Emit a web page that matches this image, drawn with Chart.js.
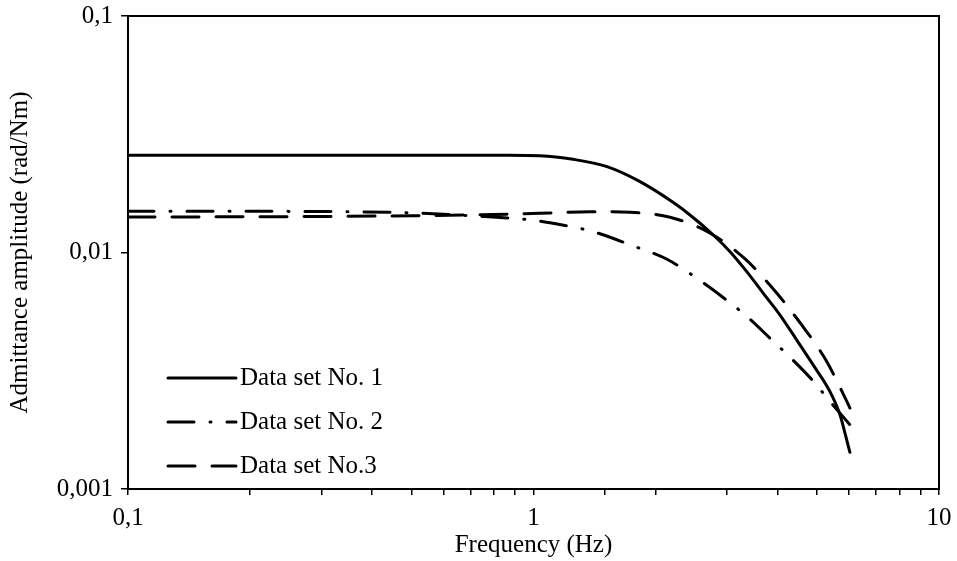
<!DOCTYPE html>
<html>
<head>
<meta charset="utf-8">
<script src="https://cdn.jsdelivr.net/npm/chart.js@4.4.1/dist/chart.umd.min.js"></script>
<style>
  html, body { margin: 0; padding: 0; background: #fff; }
  #wrap { width: 957px; height: 561px; position: relative; }
</style>
</head>
<body>
<div id="wrap"><canvas id="chart"></canvas></div>
<script>
// Datos (frecuencia en Hz, amplitud en rad/Nm)
const freq1 = [0.1, 0.2, 0.4, 0.6, 0.85, 1.037, 1.252, 1.518, 1.831, 2.208, 2.432, 2.776, 3.053, 3.357, 3.688, 4.055, 4.457, 4.898, 5.385, 5.7, 5.88, 6.03];
const amp1  = [0.0258, 0.0258, 0.0258, 0.0258, 0.02578, 0.02565, 0.02477, 0.02306, 0.01993, 0.0163, 0.01441, 0.01186, 0.01008, 0.0083, 0.00672, 0.00544, 0.00427, 0.00334, 0.00258, 0.00206, 0.00169, 0.00143];

const freq2 = [0.1, 0.3, 0.5, 0.7, 1.0, 1.098, 1.402, 1.76, 2.134, 2.6, 2.967, 3.387, 3.83, 4.334, 4.876, 5.437, 6.03];
const amp2  = [0.01496, 0.0149, 0.0147, 0.0143, 0.0137, 0.01336, 0.01225, 0.01066, 0.00936, 0.00752, 0.00636, 0.0053, 0.00434, 0.00355, 0.00288, 0.0023, 0.00187];

const freq3 = [0.1, 0.3, 0.5, 0.7, 1.037, 1.378, 1.73, 2.171, 2.709, 3.325, 3.94, 4.585, 5.26, 5.86, 6.03];
const amp3  = [0.01412, 0.0142, 0.0143, 0.01442, 0.01465, 0.01488, 0.01479, 0.01409, 0.01215, 0.00939, 0.00687, 0.00494, 0.00351, 0.00244, 0.0022];

const seriesLabels = ['Data set No. 1', 'Data set No. 2', 'Data set No.3'];
const xTickValues = [0.1, 1, 10];
const yTickValues = [0.001, 0.01, 0.1];

const FONT = '"Liberation Serif", "Times New Roman", serif';
Chart.defaults.font.family = FONT;
Chart.defaults.color = '#000';

const toPoints = (xs, ys) => xs.map((x, i) => ({ x: x, y: ys[i] }));
const fmt = v => String(v).replace('.', ',');

// Leyenda dibujada dentro del área del gráfico
const insideLegend = {
    id: 'insideLegend',
    afterDatasetsDraw(chart) {
        const ctx = chart.ctx;
        const area = chart.chartArea;
        const rows = [area.bottom - 111, area.bottom - 67, area.bottom - 23];
        ctx.save();
        chart.data.datasets.forEach((ds, i) => {
            const y = rows[i];
            ctx.beginPath();
            ctx.strokeStyle = ds.borderColor;
            ctx.lineWidth = ds.borderWidth;
            ctx.lineCap = ds.borderCapStyle || 'butt';
            ctx.setLineDash(ds.borderDash || []);
            ctx.moveTo(area.left + 40, y);
            ctx.lineTo(area.left + 108, y);
            ctx.stroke();
            ctx.setLineDash([]);
            ctx.fillStyle = '#000';
            ctx.font = '25px ' + FONT;
            ctx.textBaseline = 'middle';
            ctx.textAlign = 'left';
            ctx.fillText(ds.label, area.left + 112, y);
        });
        ctx.restore();
    }
};

// Marco alrededor del área del gráfico
const frame = {
    id: 'frame',
    afterDraw(chart) {
        const a = chart.chartArea;
        const ctx = chart.ctx;
        ctx.save();
        ctx.strokeStyle = '#000';
        ctx.lineWidth = 2;
        ctx.strokeRect(a.left, a.top, a.right - a.left, a.bottom - a.top);
        ctx.restore();
    }
};

new Chart(document.getElementById('chart'), {
    type: 'line',
    data: {
        datasets: [
            {
                label: seriesLabels[0],
                data: toPoints(freq1, amp1),
                borderColor: '#000',
                borderWidth: 3,
                borderCapStyle: 'round',
                pointRadius: 0,
                cubicInterpolationMode: 'monotone'
            },
            {
                label: seriesLabels[1],
                data: toPoints(freq2, amp2),
                borderColor: '#000',
                borderWidth: 3,
                borderCapStyle: 'round',
                borderDash: [26, 16, 1, 16],
                pointRadius: 0,
                cubicInterpolationMode: 'monotone'
            },
            {
                label: seriesLabels[2],
                data: toPoints(freq3, amp3),
                borderColor: '#000',
                borderWidth: 3,
                borderCapStyle: 'round',
                borderDash: [27, 17],
                pointRadius: 0,
                cubicInterpolationMode: 'monotone'
            }
        ]
    },
    options: {
        responsive: true,
        maintainAspectRatio: false,
        animation: false,
        layout: { padding: { left: 0, top: 16, right: 18, bottom: 0 } },
        plugins: {
            legend: { display: false },
            tooltip: { enabled: false }
        },
        scales: {
            x: {
                type: 'logarithmic',
                min: 0.1,
                max: 10,
                afterFit: s => { s.height = 72; s.paddingLeft = 0; s.paddingRight = 0; },
                grid: { drawOnChartArea: false, color: '#000', lineWidth: 1.5, tickLength: 6 },
                border: { color: '#000', width: 2 },
                ticks: {
                    autoSkip: false,
                    maxRotation: 0,
                    padding: 8,
                    font: { size: 25 },
                    callback: v => xTickValues.some(t => Math.abs(t - v) < 1e-9) ? fmt(v) : ''
                },
                title: {
                    display: true,
                    text: 'Frequency (Hz)',
                    font: { size: 25 },
                    padding: { top: 0, bottom: 1 }
                }
            },
            y: {
                type: 'logarithmic',
                min: 0.001,
                max: 0.1,
                afterFit: s => { s.width = 128; s.paddingTop = 0; s.paddingBottom = 0; },
                afterBuildTicks: s => {
                    s.ticks = yTickValues.map(v => ({ value: v }));
                },
                grid: { drawOnChartArea: false, color: '#000', lineWidth: 1.5, tickLength: 7 },
                border: { color: '#000', width: 2 },
                ticks: {
                    padding: 8,
                    font: { size: 25 },
                    callback: v => fmt(v)
                },
                title: {
                    display: true,
                    text: 'Admittance amplitude (rad/Nm)',
                    font: { size: 25 },
                    padding: { top: 5, bottom: 0 }
                }
            }
        }
    },
    plugins: [insideLegend, frame]
});
</script>
</body>
</html>
